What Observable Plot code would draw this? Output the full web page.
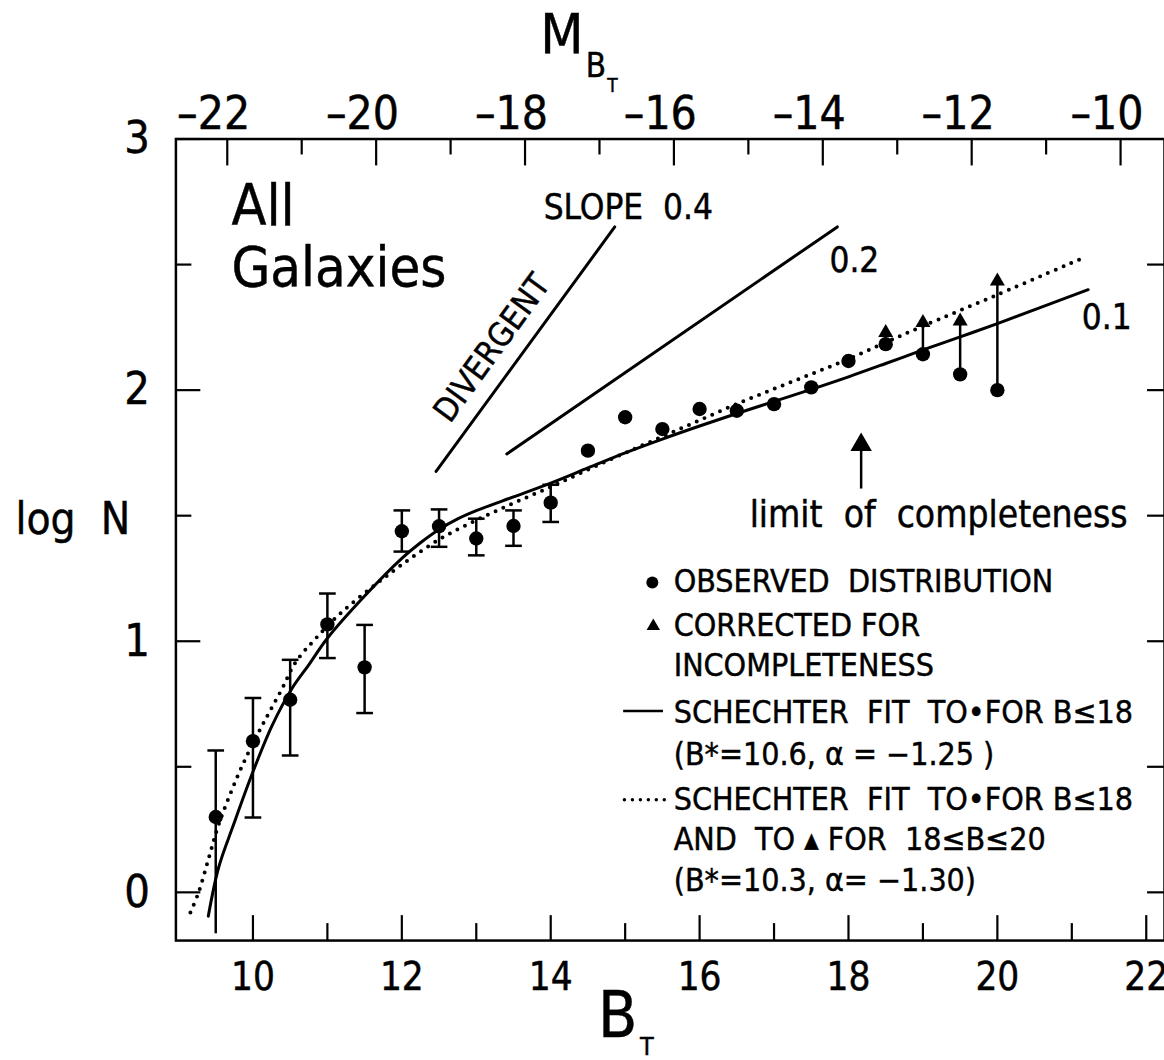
<!DOCTYPE html>
<html><head><meta charset="utf-8">
<script src="https://cdn.jsdelivr.net/npm/d3@7"></script>
<script src="https://cdn.jsdelivr.net/npm/@observablehq/plot@0.6"></script>
<style>html,body{margin:0;padding:0;overflow:hidden;background:#fff}#chart svg{display:block}#chart svg text{stroke:#000;stroke-width:0.45px}</style>
</head><body><div id="chart"></div>
<script>
// ---- data ----
const B_obs    = [9.5, 10, 10.5, 11, 11.5, 12, 12.5, 13, 13.5, 14, 14.5, 15, 15.5, 16, 16.5, 17, 17.5, 18, 18.5, 19, 19.5, 20];
const logN_obs = [0.30, 0.602, 0.767, 1.067, 0.896, 1.438, 1.458, 1.409, 1.459, 1.552, 1.759, 1.892, 1.845, 1.925, 1.918, 1.944, 2.011, 2.116, 2.183, 2.143, 2.063, 2.0];
const B_err    = [9.5, 10, 10.5, 11, 11.5, 12, 12.5, 13, 13.5, 14];
const err_hi   = [0.565, 0.774, 0.926, 1.19, 1.065, 1.521, 1.525, 1.488, 1.521, 1.623];
const err_lo   = [-0.165, 0.298, 0.545, 0.933, 0.714, 1.357, 1.376, 1.342, 1.38, 1.475];
const err_lowCap = [false, true, true, true, true, true, true, true, true, true];
const B_corr    = [18.5, 19, 19.5, 20];
const logN_corr = [2.229, 2.269, 2.275, 2.434];
const logN_corrFrom = [2.183, 2.143, 2.063, 2.0];

// Schechter fit to dots (solid) and to dots + triangles (dotted)
const solid_B    = [9.40, 9.54, 9.74, 10.0, 10.26, 10.52, 10.75, 11.0, 11.5, 12.0, 12.25, 12.5, 12.75, 13.0, 13.5, 14.0, 14.5, 15.0, 15.5, 16.0, 16.5, 17.0, 17.5, 18.0, 18.5, 19.0, 19.5, 20.0, 21.22];
const solid_logN = [-0.095, 0.10, 0.27, 0.48, 0.666, 0.81, 0.906, 1.012, 1.18, 1.33, 1.392, 1.445, 1.487, 1.52, 1.575, 1.63, 1.69, 1.75, 1.805, 1.857, 1.907, 1.955, 2.003, 2.053, 2.106, 2.16, 2.212, 2.265, 2.40];
const dot_B    = [9.16, 9.27, 9.41, 9.54, 9.72, 9.92, 10.17, 10.39, 10.57, 10.84, 11.19, 11.6, 12.0, 12.5, 13.0, 13.5, 14.0, 14.5, 15.0, 15.5, 16.0, 16.5, 17.0, 17.5, 18.0, 18.5, 19.0, 20.0, 21.1];
const dot_logN = [-0.08, 0.0, 0.14, 0.27, 0.41, 0.545, 0.69, 0.81, 0.915, 1.01, 1.115, 1.215, 1.305, 1.405, 1.482, 1.55, 1.615, 1.683, 1.75, 1.815, 1.88, 1.945, 2.005, 2.064, 2.124, 2.19, 2.255, 2.38, 2.52];

const slope04_B = [12.46, 14.86], slope04_logN = [1.676, 2.65];
const slope02_B = [13.41, 17.85], slope02_logN = [1.746, 2.65];
const B_limit = 18.17, limit_logN = [1.606, 1.838];

// axes
const DM = 31.655;               // B_T - M_BT offset
const xMajor = [10, 12, 14, 16, 18, 20, 22];
const xMinor = [11, 13, 15, 17, 19, 21];
const mMajor = [-22, -20, -18, -16, -14, -12, -10];
const mMinor = [-21, -19, -17, -15, -13, -11];
const yMajor = [0, 1, 2, 3];
const yMinor = [0.5, 1.5, 2.5];
const yRight = [0, 0.5, 1, 1.5, 2, 2.5];

// ---- layout ----
const W = 1168, H = 1060, mL = 176, mR = 0, mT = 139, mB = 116.7;
const plotW = W - mL - mR, plotH = H - mT - mB;
const FONT = "'DejaVu Sans Condensed', 'Liberation Sans Narrow', 'DejaVu Sans', sans-serif";
const CAP = 0.112; // half width of error-bar caps (in B units)

const obs = B_obs.map((b, i) => ({B: b, v: logN_obs[i]}));
const errs = B_err.map((b, i) => ({B: b, lo: err_lo[i], hi: err_hi[i], lowCap: err_lowCap[i]}));
const caps = errs.flatMap(d => d.lowCap ? [{B: d.B, v: d.hi}, {B: d.B, v: d.lo}] : [{B: d.B, v: d.hi}]);
const corr = B_corr.map((b, i) => ({B: b, v: logN_corr[i], from: logN_corrFrom[i]}));
const solid = solid_B.map((b, i) => ({B: b, v: solid_logN[i]}));
const dotted = dot_B.map((b, i) => ({B: b, v: dot_logN[i]}));
const s04 = slope04_B.map((b, i) => ({B: b, v: slope04_logN[i]}));
const s02 = slope02_B.map((b, i) => ({B: b, v: slope02_logN[i]}));

// text annotations (position in data units)
const notes = [
  {x: 9.711, y: 2.659, t: "All", fs: 57},
  {x: 9.711, y: 2.414, t: "Galaxies", fs: 56},
  {x: 13.905, y: 2.683, t: "SLOPE  0.4", fs: 35},
  {x: 17.744, y: 2.469, t: "0.2", fs: 35},
  {x: 21.134, y: 2.242, t: "0.1", fs: 35},
  {x: 16.672, y: 1.455, t: "limit  of  completeness", fs: 37},
  {x: 6.81, y: 1.429, t: "log  N", fs: 44},
  {x: 14.635, y: -0.575, t: "B", fs: 64},
  {x: 15.198, y: -0.647, t: "T", fs: 25},
  {x: 13.86, y: 3.341, t: "M", fs: 56},
  {x: 14.47, y: 3.246, t: "B", fs: 33},
  {x: 14.76, y: 3.187, t: "T", fs: 19}
];
const legendText = [
  {y: 1.198, t: "OBSERVED  DISTRIBUTION"},
  {y: 1.020, t: "CORRECTED FOR"},
  {y: 0.861, t: "INCOMPLETENESS"},
  {y: 0.675, t: "SCHECHTER  FIT  TO\u2022FOR B\u226418"},
  {y: 0.508, t: "(B*=10.6, \u03B1 = \u22121.25 )"},
  {y: 0.329, t: "SCHECHTER  FIT  TO\u2022FOR B\u226418"},
  {y: 0.167, t: "AND  TO \u25B4 FOR  18\u2264B\u226420"},
  {y: 0.004, t: "(B*=10.3, \u03B1= \u22121.30)"}
];
const legendX = 15.652;

const chart = Plot.plot({
  width: W, height: H,
  marginLeft: mL, marginRight: mR, marginTop: mT, marginBottom: mB,
  style: {fontFamily: FONT, color: "black", background: "white", overflow: "visible"},
  x: {domain: [8.965, 22.245], axis: null},
  y: {domain: [-0.192, 3], axis: null},
  marks: [
    Plot.frame({stroke: "black", strokeWidth: 2.5}),
    // inward ticks
    Plot.tickX(xMajor, {x: d => d, insetTop: plotH - 25, strokeWidth: 2.2}),
    Plot.tickX(xMinor, {x: d => d, insetTop: plotH - 17, strokeWidth: 2.2}),
    Plot.tickX(mMajor, {x: d => d + DM, insetBottom: plotH - 27, strokeWidth: 2.2}),
    Plot.tickX(mMinor, {x: d => d + DM, insetBottom: plotH - 16, strokeWidth: 2.2}),
    Plot.tickY(yMajor, {y: d => d, insetRight: plotW - 25, strokeWidth: 2.2}),
    Plot.tickY(yMinor, {y: d => d, insetRight: plotW - 16, strokeWidth: 2.2}),
    Plot.tickY(yRight, {y: d => d, insetLeft: plotW - 17, strokeWidth: 2.2}),
    // tick labels
    Plot.axisX(xMajor, {anchor: "bottom", tickSize: 0, tickPadding: 22, fontSize: 38.5, label: null}),
    Plot.axisX(mMajor.map(m => m + DM), {anchor: "top", tickSize: 0, tickPadding: 10, fontSize: 46, label: null,
      textAnchor: "end", dx: 23, tickFormat: b => "\u2013" + Math.abs(Math.round(b - DM))}),
    Plot.axisY(yMajor, {anchor: "left", tickSize: 0, tickPadding: 26, fontSize: 45, label: null, tickFormat: d => String(d)}),
    // model curves
    Plot.line(dotted, {x: "B", y: "v", curve: "catmull-rom", stroke: "black", strokeWidth: 4, strokeDasharray: "0 8.5", strokeLinecap: "round"}),
    Plot.line(solid, {x: "B", y: "v", curve: "catmull-rom", stroke: "black", strokeWidth: 3}),
    // reference slopes
    Plot.line(s04, {x: "B", y: "v", stroke: "black", strokeWidth: 3}),
    Plot.line(s02, {x: "B", y: "v", stroke: "black", strokeWidth: 3}),
    // error bars
    Plot.ruleX(errs, {x: "B", y1: "lo", y2: "hi", stroke: "black", strokeWidth: 2.5}),
    Plot.link(caps, {x1: d => d.B - CAP, x2: d => d.B + CAP, y1: "v", y2: "v", stroke: "black", strokeWidth: 2.5}),
    // correction for incompleteness
    Plot.ruleX(corr, {x: "B", y1: "from", y2: "v", stroke: "black", strokeWidth: 2.5}),
    Plot.dot(obs, {x: "B", y: "v", r: 7.2, fill: "black", stroke: null}),
    Plot.dot(corr, {x: "B", y: "v", symbol: "triangle", r: 5.6, fill: "black", stroke: null}),
    // limit of completeness arrow
    Plot.ruleX([B_limit], {x: d => d, y1: limit_logN[0], y2: limit_logN[1] - 0.06, stroke: "black", strokeWidth: 2.5}),
    Plot.dot([B_limit], {x: d => d, y: limit_logN[1] - 0.056, symbol: "triangle", r: 8, fill: "black", stroke: null}),
    // text
    Plot.text(notes, {x: "x", y: "y", text: "t", fontSize: "fs", textAnchor: "start", lineAnchor: "bottom", fill: "black"}),
    Plot.text(["DIVERGENT"], {x: 13.213, y: 2.167, text: d => d, rotate: -54, fontSize: 33, textAnchor: "middle", lineAnchor: "middle", fill: "black"}),
    Plot.text(legendText, {x: legendX, y: "y", text: "t", fontSize: 32, textAnchor: "start", lineAnchor: "bottom", fill: "black"}),
    // legend keys
    Plot.dot([15.365], {x: d => d, y: 1.234, r: 6, fill: "black", stroke: null}),
    Plot.dot([15.378], {x: d => d, y: 1.06, symbol: "triangle", r: 5, fill: "black", stroke: null}),
    Plot.link([0], {x1: 14.973, x2: 15.508, y1: 0.722, y2: 0.722, stroke: "black", strokeWidth: 2.5}),
    Plot.link([0], {x1: 14.99, x2: 15.63, y1: 0.369, y2: 0.369, stroke: "black", strokeWidth: 3.5, strokeDasharray: "0 8", strokeLinecap: "round"})
  ]
});
chart.setAttribute("font-family", FONT);
document.getElementById("chart").append(chart);
</script>
</body></html>
